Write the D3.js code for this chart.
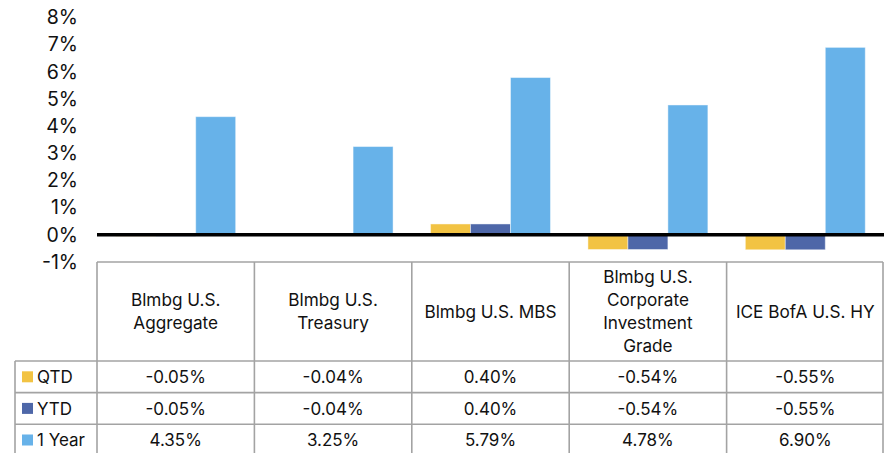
<!DOCTYPE html>
<html>
<head>
<meta charset="utf-8">
<script src="https://cdn.jsdelivr.net/npm/d3@7"></script>
<style>
  body { margin: 0; background: #fff; }
  svg text { font-family: "Inter", "Lato", sans-serif; fill: #111; }
</style>
</head>
<body>
<script>
// chart data
var categories = ["Blmbg U.S. Aggregate", "Blmbg U.S. Treasury", "Blmbg U.S. MBS",
  "Blmbg U.S. Corporate Investment Grade", "ICE BofA U.S. HY"];
var headerLines = [["Blmbg U.S.", "Aggregate"], ["Blmbg U.S.", "Treasury"], ["Blmbg U.S. MBS"],
  ["Blmbg U.S.", "Corporate", "Investment", "Grade"], ["ICE BofA U.S. HY"]];
var seriesNames = ["QTD", "YTD", "1 Year"];
var qtd = [-0.05, -0.04, 0.40, -0.54, -0.55];
var ytd = [-0.05, -0.04, 0.40, -0.54, -0.55];
var oneYear = [4.35, 3.25, 5.79, 4.78, 6.90];
var yTicks = [-1, 0, 1, 2, 3, 4, 5, 6, 7, 8];
var colors = ["#F2C343", "#4E67A8", "#67B2E9"];

window.onload = function(){
  var w = 884, h = 453;
  var series = [qtd, ytd, oneYear];

  var svg = d3.select("body").append("svg")
    .attr("width", w)
    .attr("height", h);

  var x = d3.scaleBand().domain(categories).range([97, 884]).padding(0);
  var bw = x.bandwidth();
  var xs = d3.scaleBand().domain(seriesNames).range([bw * 0.119, bw * 0.881]).padding(0);
  var y = d3.scaleLinear().domain([-1, 8]).range([262, 17.5]);

  // y axis labels, no line
  var yAxis = d3.axisLeft(y).tickValues(yTicks).tickSize(0).tickPadding(0)
    .tickFormat(function(d){ return d + "%"; });
  var ya = svg.append("g").attr("transform", "translate(78,0)").call(yAxis);
  ya.select(".domain").remove();
  ya.selectAll("text").attr("font-size", 19.5).attr("font-family", "Inter").attr("fill", "#111");

  // bars
  seriesNames.forEach(function(s, i){
    svg.append("g").selectAll("rect")
      .data(series[i])
      .join("rect")
      .attr("x", function(d, j){ return x(categories[j]) + xs(s); })
      .attr("width", xs.bandwidth())
      .attr("y", function(d){ return y(Math.max(0, d)); })
      .attr("height", function(d){ return Math.abs(y(d) - y(0)); })
      .attr("fill", colors[i])
      .attr("stroke", "rgba(255,255,255,0.45)")
      .attr("stroke-width", 1);
  });

  // zero line
  svg.append("line")
    .attr("x1", 97).attr("x2", 884)
    .attr("y1", y(0)).attr("y2", y(0))
    .attr("stroke", "#000").attr("stroke-width", 3.5);

  // data table
  var tableTop = y(-1), headBottom = 361, rowH = 31.6, legendLeft = 15;
  var grid = svg.append("g").attr("stroke", "#a3a3a3").attr("stroke-width", 1.6);
  var colEdges = categories.map(function(c){ return x(c); }).concat([883]);
  // header row
  grid.append("line").attr("x1", 97).attr("x2", 883).attr("y1", tableTop).attr("y2", tableTop);
  colEdges.forEach(function(cx){
    grid.append("line").attr("x1", cx).attr("x2", cx).attr("y1", tableTop).attr("y2", h + 5);
  });
  grid.append("line").attr("x1", legendLeft).attr("x2", legendLeft).attr("y1", headBottom).attr("y2", h + 5);
  [0, 1, 2].forEach(function(r){
    var ry = headBottom + r * rowH;
    grid.append("line").attr("x1", legendLeft).attr("x2", 883).attr("y1", ry).attr("y2", ry);
  });

  // header text
  headerLines.forEach(function(lines, j){
    var cx = x(categories[j]) + bw / 2;
    var mid = (tableTop + headBottom) / 2;
    var lh = 22.8;
    var t = svg.append("text").attr("text-anchor", "middle").attr("font-size", 17.2);
    lines.forEach(function(l, k){
      t.append("tspan").attr("x", cx)
        .attr("y", mid + (k - (lines.length - 1) / 2) * lh)
        .attr("dy", "0.36em")
        .text(l);
    });
  });

  // rows
  seriesNames.forEach(function(s, i){
    var cy = headBottom + i * rowH + rowH / 2;
    svg.append("rect").attr("x", 22).attr("y", cy - 5.5).attr("width", 11).attr("height", 11)
      .attr("fill", colors[i]);
    svg.append("text").attr("x", 37).attr("y", cy).attr("dy", "0.36em")
      .attr("font-size", 17).text(s);
    series[i].forEach(function(v, j){
      svg.append("text").attr("x", x(categories[j]) + bw / 2).attr("y", cy).attr("dy", "0.36em")
        .attr("text-anchor", "middle").attr("font-size", 17)
        .text(v.toFixed(2) + "%");
    });
  });
};
</script>
</body>
</html>
